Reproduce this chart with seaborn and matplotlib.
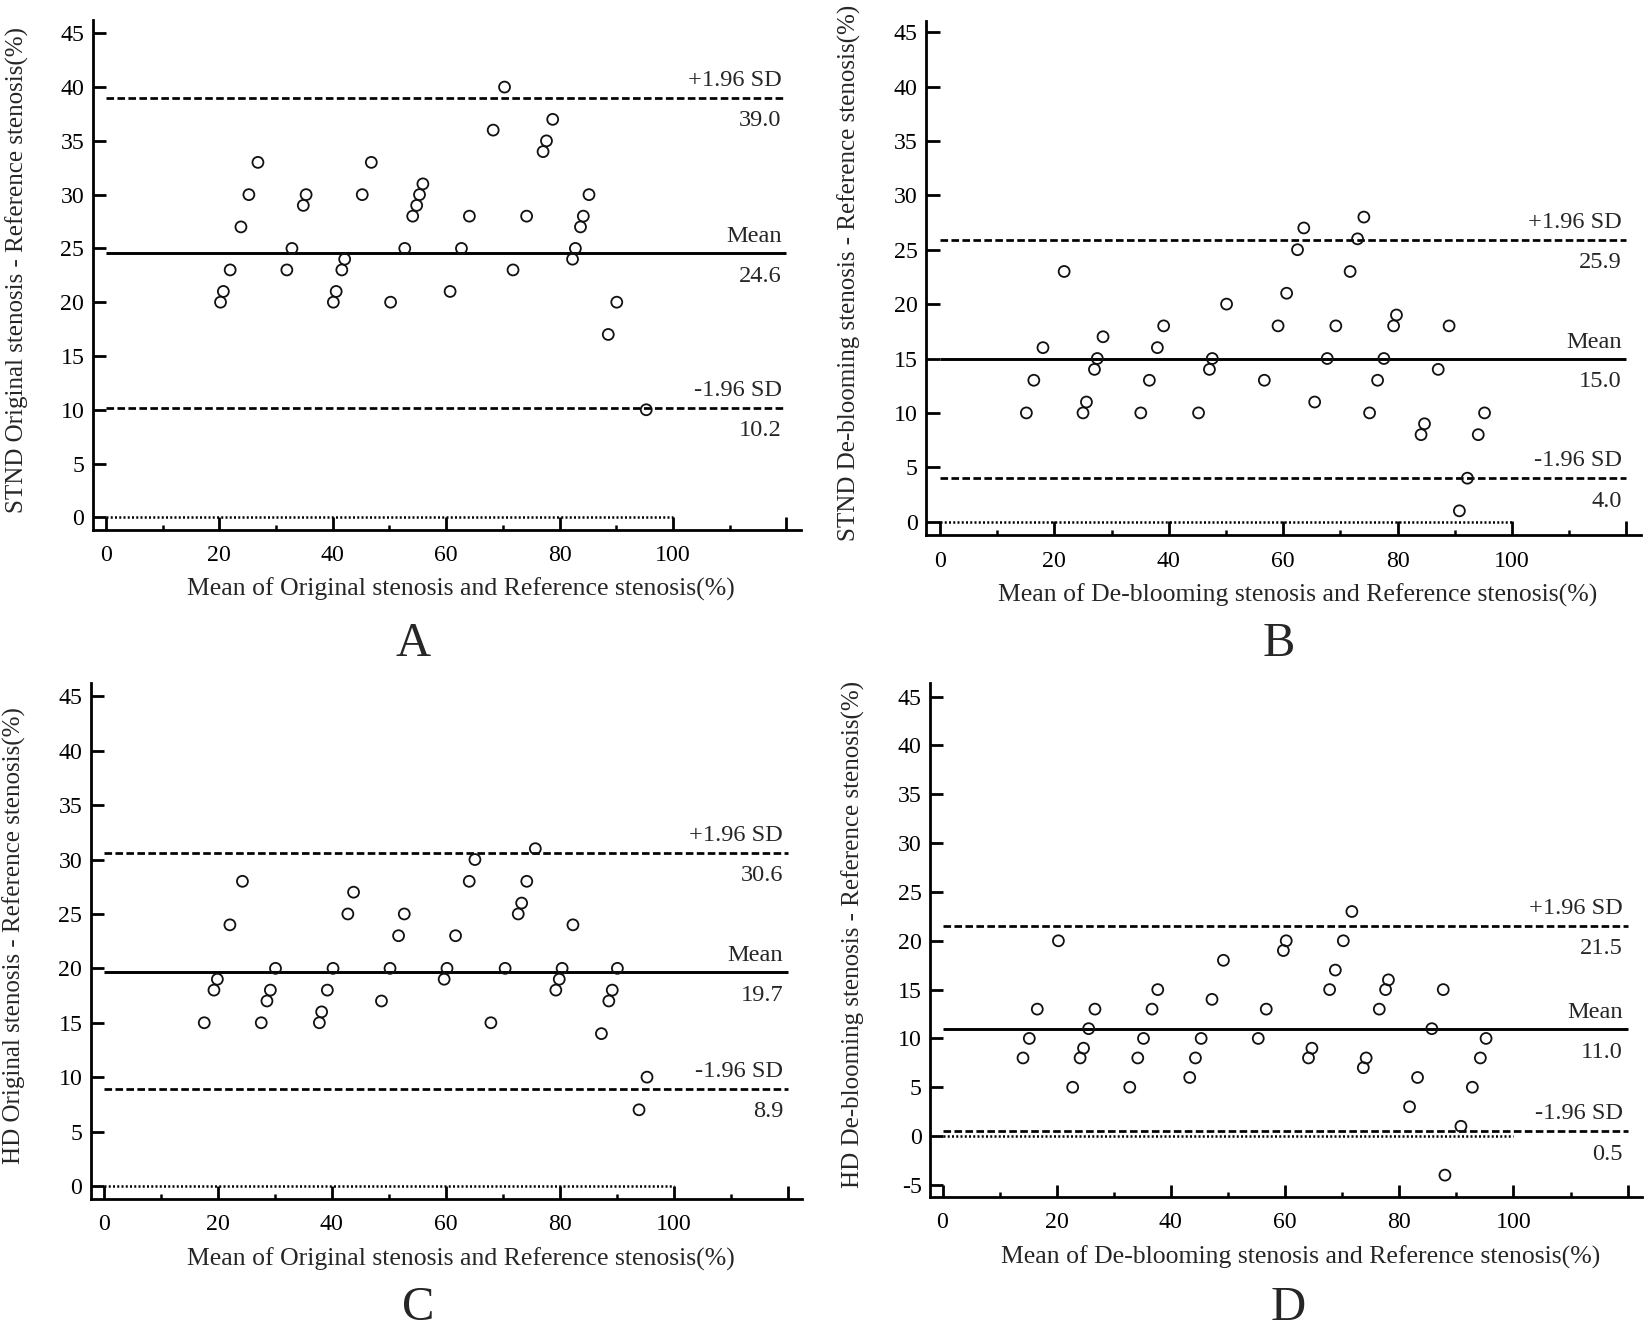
import matplotlib
matplotlib.use('Agg')
import matplotlib.pyplot as plt
import seaborn as sns

# ---- data ----
a_x = [20.2, 20.7, 21.9, 23.8, 25.2, 26.8, 31.9, 32.8, 34.8, 35.3, 40.1, 40.6, 41.6, 42.1,
       45.2, 46.8, 50.2, 52.7, 54.1, 54.8, 55.3, 55.9, 60.7, 62.7, 64.1, 68.3, 70.3, 71.8,
       74.2, 77.1, 77.7, 78.8, 82.3, 82.8, 83.7, 84.2, 85.2, 88.6, 90.1, 95.3]
a_y = [20, 21, 23, 27, 30, 33, 23, 25, 29, 30, 20, 21, 23, 24,
       30, 33, 20, 25, 28, 29, 30, 31, 21, 25, 28, 36, 40, 23,
       28, 34, 35, 37, 24, 25, 27, 28, 30, 17, 20, 10]

b_x = [15.1, 16.4, 18.0, 21.7, 25.0, 25.6, 27.0, 27.5, 28.5, 35.1, 36.6, 38.0, 39.1, 45.2,
       47.1, 47.6, 50.1, 56.7, 59.1, 60.6, 62.5, 63.6, 65.5, 67.7, 69.2, 71.7, 73.0, 74.1,
       75.1, 76.5, 77.6, 79.3, 79.8, 84.1, 84.7, 87.1, 89.0, 90.8, 92.2, 94.1, 95.2]
b_y = [10, 13, 16, 23, 10, 11, 14, 15, 17, 10, 13, 16, 18, 10,
       14, 15, 20, 13, 18, 21, 25, 27, 11, 15, 18, 23, 26, 28,
       10, 13, 15, 18, 19, 8, 9, 14, 18, 1, 4, 8, 10]

c_x = [17.6, 19.3, 19.9, 22.1, 24.3, 27.6, 28.6, 29.2, 30.1, 37.8, 38.2, 39.2, 40.2, 42.8,
       43.8, 48.7, 50.2, 51.7, 52.7, 59.7, 60.2, 61.7, 64.1, 65.1, 67.9, 70.4, 72.7, 73.3,
       74.2, 75.7, 79.3, 79.9, 80.4, 82.3, 87.3, 88.6, 89.2, 90.1, 93.9, 95.3]
c_y = [15, 18, 19, 24, 28, 15, 17, 18, 20, 15, 16, 18, 20, 25,
       27, 17, 20, 23, 25, 19, 20, 23, 28, 30, 15, 20, 25, 26,
       28, 31, 18, 19, 20, 24, 14, 17, 18, 20, 7, 10]

d_x = [14.1, 15.2, 16.6, 20.3, 22.8, 24.1, 24.7, 25.6, 26.7, 32.8, 34.2, 35.2, 36.7, 37.7,
       43.3, 44.3, 45.3, 47.2, 49.2, 55.3, 56.7, 59.7, 60.2, 64.1, 64.7, 67.8, 68.8, 70.2,
       71.7, 73.7, 74.2, 76.5, 77.6, 78.1, 81.8, 83.2, 85.7, 87.7, 88.0, 90.8, 92.8, 94.2, 95.2]
d_y = [8, 10, 13, 20, 5, 8, 9, 11, 13, 5, 8, 10, 13, 15,
       6, 8, 10, 14, 18, 10, 13, 19, 20, 8, 9, 15, 17, 20,
       23, 7, 8, 13, 15, 16, 3, 6, 11, 15, -4, 1, 5, 8, 10]

means = [24.6, 15.0, 19.7, 11.0]
upper = [39.0, 25.9, 30.6, 21.5]
lower = [10.2, 4.0, 8.9, 0.5]

panel_letters = ['A', 'B', 'C', 'D']
y_labels = ['STND Original stenosis - Reference stenosis(%)',
            'STND De-blooming stenosis - Reference stenosis(%)',
            'HD Original stenosis - Reference stenosis(%)',
            'HD De-blooming stenosis - Reference stenosis(%)']
x_labels = ['Mean of Original stenosis and Reference stenosis(%)',
            'Mean of De-blooming stenosis and Reference stenosis(%)',
            'Mean of Original stenosis and Reference stenosis(%)',
            'Mean of De-blooming stenosis and Reference stenosis(%)']
x_ticks = [0, 20, 40, 60, 80, 100, 120]
x_tick_labels = ['0', '20', '40', '60', '80', '100', '']

# ---- layout (pixels in a 1650x1332 canvas) ----
W, H = 1650, 1332
boxes = [(92.7, 20.4, 801, 530), (926, 20.7, 1640.7, 535.3),
         (90.7, 683.3, 802, 1199), (930, 683, 1642.5, 1197)]
xlims = [(-2.35, 122.6), (-2.45, 122.5), (-2.33, 122.5), (-2.19, 122.6)]
ylims = [(-1.18, 46.2), (-1.25, 46.05), (-1.2, 46.2), (-6.24, 46.4)]
y_ticks = [list(range(0, 46, 5)), list(range(0, 46, 5)),
           list(range(0, 46, 5)), list(range(-5, 46, 5))]
letter_pos = [(413, 656), (1279, 656), (418, 1320), (1288, 1320)]

sns.set_style('white')
plt.rcParams['font.family'] = ['Liberation Serif', 'DejaVu Serif']

fig = plt.figure(figsize=(16.5, 13.32), dpi=100)

xs = [a_x, b_x, c_x, d_x]
ys = [a_y, b_y, c_y, d_y]

for i in range(4):
    l, t, r, b = boxes[i]
    ax = fig.add_axes([l / W, 1 - b / H, (r - l) / W, (b - t) / H])

    sns.scatterplot(x=xs[i], y=ys[i], ax=ax, marker='o', s=62, color='black',
                    facecolor='none', edgecolor='#111111', linewidth=1.3, zorder=3)

    ax.hlines(means[i], 0, 120, colors='black', linewidth=2.1)
    ax.hlines([upper[i], lower[i]], 0, 120, colors='black', linewidth=1.95,
              linestyles=[(0, (2.8, 1.25))])
    ax.hlines(0, 0, 100, colors='black', linewidth=1.8, linestyles=[(0, (0.8, 0.9))])

    lab_x = 119.2
    ax.annotate('+1.96 SD', (lab_x, upper[i]), xytext=(0, 8.6), textcoords='offset points',
                ha='right', va='baseline', fontsize=17.6)
    ax.annotate(f'{upper[i]:.1f}', (lab_x, upper[i]), xytext=(0, -20.4), textcoords='offset points',
                ha='right', va='baseline', fontsize=17.6)
    ax.annotate('Mean', (lab_x, means[i]), xytext=(0, 7.8), textcoords='offset points',
                ha='right', va='baseline', fontsize=17.6)
    ax.annotate(f'{means[i]:.1f}', (lab_x, means[i]), xytext=(0, -20.8), textcoords='offset points',
                ha='right', va='baseline', fontsize=17.6)
    ax.annotate('-1.96 SD', (lab_x, lower[i]), xytext=(0, 8.6), textcoords='offset points',
                ha='right', va='baseline', fontsize=17.6)
    ax.annotate(f'{lower[i]:.1f}', (lab_x, lower[i]), xytext=(0, -20.4), textcoords='offset points',
                ha='right', va='baseline', fontsize=17.6)

    ax.set_xlim(*xlims[i])
    ax.set_ylim(*ylims[i])
    ax.set_xticks(x_ticks, labels=x_tick_labels)
    ax.set_xticks([10, 30, 50, 70, 90, 110], minor=True)
    ax.set_yticks(y_ticks[i], labels=[str(v) for v in y_ticks[i]])

    # inward ticks that reach from the detached spine to the data origin
    ypx = (b - t) / (ylims[i][1] - ylims[i][0])
    xpx = (r - l) / (xlims[i][1] - xlims[i][0])
    x_len = (y_ticks[i][0] - ylims[i][0]) * ypx * 72 / 100
    y_len = (0 - xlims[i][0]) * xpx * 72 / 100
    ax.tick_params(axis='x', which='both', bottom=True, top=False)
    ax.tick_params(axis='y', which='both', left=True, right=False)
    ax.tick_params(axis='x', which='major', direction='in', length=x_len, width=2.0,
                   pad=11, labelsize=17.2, colors='black')
    ax.tick_params(axis='x', which='minor', direction='in', length=3.6, width=1.8,
                   colors='black')
    ax.tick_params(axis='y', which='major', direction='in', length=y_len, width=2.0,
                   pad=6, labelsize=17.2, colors='black')
    ax.tick_params(axis='y', which='minor', left=False)

    for side in ['top', 'right']:
        ax.spines[side].set_visible(False)
    for side in ['left', 'bottom']:
        ax.spines[side].set_linewidth(2.0)
        ax.spines[side].set_color('black')

    ax.set_xlabel(x_labels[i], fontsize=18.5, va='center')
    ax.xaxis.set_label_coords(0.52, -0.117)
    ax.set_ylabel(y_labels[i], fontsize=18, va='center')
    ax.yaxis.set_label_coords(-0.107, 0.51)

    lx, ly = letter_pos[i]
    fig.text(lx / W, 1 - ly / H, panel_letters[i], fontsize=35, ha='center', va='baseline')

fig.savefig('out.png', dpi=100, facecolor='white')
